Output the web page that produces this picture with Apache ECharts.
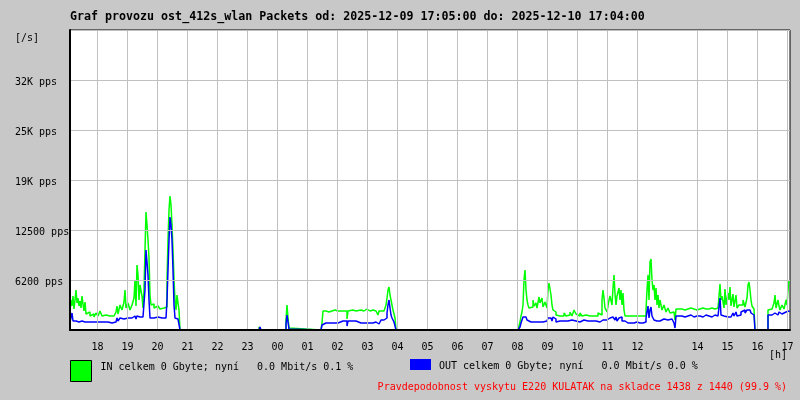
<!DOCTYPE html>
<html>
<head>
<meta charset="utf-8">
<script src="https://cdn.jsdelivr.net/npm/echarts@6/dist/echarts.min.js"></script>
<style>
html,body{margin:0;padding:0;background:#c8c8c8;}
#chart{width:800px;height:400px;}
</style>
</head>
<body>
<div id="chart"></div>
<script>
// Minutes since start of window (2025-12-09 17:05)
const minutes = [0,2,4,6,8,10,12,14,16,18,20,22,24,26,28,30,32,36,40,44,48,52,56,60,64,68,72,76,80,84,88,92,94,96,100,104,108,110,112,116,120,124,128,130,132,134,136,138,140,144,146,148,150,152,154,156,158,160,162,164,168,172,176,180,184,188,192,194,196,198,200,202,204,206,208,210,212,214,216,218,220,276,278,350,352,378,380,382,420,422,432,434,436,438,440,502,504,506,512,518,524,530,536,540,546,550,554,556,560,566,572,576,582,588,594,600,606,612,616,618,622,628,632,634,636,638,640,642,644,646,648,650,652,896,898,900,902,904,906,908,910,912,914,916,918,922,926,928,932,934,938,940,944,946,950,954,956,958,960,962,964,966,968,972,976,980,984,988,992,996,1000,1004,1008,1012,1016,1020,1024,1028,1032,1036,1040,1044,1048,1052,1056,1060,1064,1066,1068,1070,1074,1078,1080,1084,1086,1088,1090,1092,1094,1098,1100,1102,1104,1106,1108,1110,1116,1122,1128,1134,1140,1146,1150,1152,1154,1156,1158,1160,1162,1164,1166,1168,1170,1172,1174,1176,1178,1180,1184,1188,1192,1196,1200,1204,1208,1210,1212,1218,1224,1230,1236,1242,1248,1254,1260,1266,1272,1278,1284,1290,1296,1300,1302,1304,1308,1310,1312,1316,1318,1320,1322,1326,1328,1332,1334,1338,1342,1346,1350,1354,1356,1358,1360,1362,1364,1368,1370,1396,1400,1404,1408,1410,1412,1416,1418,1420,1424,1428,1432,1434,1436,1438];
const inPps = [2500,3750,3000,4250,2625,3750,5000,3375,4000,3000,3625,2750,4250,3250,2375,3500,2000,2250,1750,2000,1625,2125,1750,2375,1750,1875,1625,1750,1625,1750,1625,2250,3000,2000,3125,2500,3500,5000,2750,3375,2500,3125,4000,6250,3000,8125,6875,3750,5625,4250,2750,5000,10000,14750,13125,11250,9000,4375,3125,3250,2750,3000,2750,2625,2750,2750,2875,6250,11250,15000,16750,15625,13125,10000,6250,3750,2500,4375,3375,2500,0,125,0,125,0,375,500,0,0,0,1250,3125,1500,250,0,250,875,2375,2250,2375,2500,2375,2250,2375,2500,2375,1375,2375,2500,2375,2250,2500,2375,2625,2375,2500,2375,2500,1875,2375,2375,2500,3125,4000,5000,5375,4375,3750,3500,2500,2250,1500,0,250,500,1000,1750,2250,3125,6250,7500,5000,3750,3125,2750,2875,3750,3000,3375,2750,4125,3375,4000,2875,3500,2750,5000,5875,5625,4375,3125,2500,2250,1875,1750,2000,1750,2125,1750,1875,2250,1750,2500,2000,1750,2125,1750,1875,2125,1750,1875,1750,2000,1750,2125,1875,3750,5000,4000,2750,2250,3750,4250,3125,5250,6875,4500,3125,4250,5250,3750,5000,3125,4625,2500,1750,1750,1750,1750,1750,1750,1875,1750,2500,5000,6875,3750,8500,8875,6250,5000,5625,3750,5250,3125,4375,2750,3750,2500,3125,2250,2750,2125,2250,2000,1250,2625,2625,2500,2625,2750,2625,2500,2625,2750,2625,2625,2750,2625,2750,2625,5750,3750,4250,2750,5125,3125,4625,3750,5375,3000,4500,2875,4375,2750,3125,3125,3750,2875,4000,5625,6000,5000,3750,3000,2625,0,2500,2625,2500,3375,4375,2750,3750,3000,2500,3125,2625,3750,3125,5000,6250];
const outPps = [1000,1250,2125,1125,1000,1125,1000,1125,1000,1125,1000,1125,1000,1000,1000,1000,1000,1000,1000,1000,1000,1125,1000,1000,1000,875,1000,1000,875,1000,1000,1250,1500,1125,1500,1375,1500,1625,1500,1750,1500,1625,1750,1500,1375,1750,1500,1625,1500,1625,1500,1750,5000,10000,8500,6875,3750,1500,1500,1500,1500,1625,1500,1500,1625,1500,1500,3750,7500,11250,14125,13125,11250,7500,3125,1500,1500,1375,1375,1250,0,0,0,0,0,250,375,0,125,0,750,1875,1000,125,0,250,625,875,875,875,875,875,1125,1125,1250,1125,500,1125,1125,1125,1125,875,875,875,875,875,1000,875,750,875,1250,1250,1500,2125,3125,3750,2750,1875,1500,1250,1000,500,0,0,125,375,875,1250,1625,1750,1625,1375,1250,1000,1000,1125,1000,1000,1000,1125,1000,1125,1000,1000,1125,1250,1500,1750,1500,1250,1125,1625,1375,1000,1125,1000,1125,1000,1125,875,1250,1000,1125,1375,1000,1125,1250,1000,1125,1000,1125,1000,1125,1000,1000,1125,1250,1375,1125,1250,1125,1500,1250,1625,1750,1500,1250,1625,1125,1500,1250,1625,1125,1250,1125,875,875,875,1000,875,875,875,1000,1500,2250,3000,1500,2500,2875,1750,1500,1250,1500,1125,1250,1375,1125,1250,1375,1125,1250,1250,1375,1250,875,250,1750,1750,1625,1750,1875,1625,1750,1750,1625,1875,1750,1625,1875,1750,1750,4000,1875,1750,1750,2000,1625,1875,1750,1625,1875,2125,1750,2250,1750,1875,2250,2500,2125,2500,2625,2500,2250,2125,1875,1750,0,1875,1875,1875,2125,2125,1875,2000,2250,2000,2125,2250,2250,2375,2375,2250];

// X axis ticks (minutes from start) and their hour labels; 13:00 is absent in the original
const xTickMinutes = [55,115,175,235,295,355,415,475,535,595,655,715,775,835,895,955,1015,1075,1135,1255,1315,1375,1435];
const xTickLabels = ['18','19','20','21','22','23','00','01','02','03','04','05','06','07','08','09','10','11','12','14','15','16','17'];
// Y axis ticks and labels
const yTickValues = [6250,12500,18750,25000,31250];
const yTickLabels = ['6200 pps','12500 pps','19K pps','25K pps','32K pps'];

const titleText = 'Graf provozu ost_412s_wlan Packets od: 2025-12-09 17:05:00 do: 2025-12-10 17:04:00';
const inLegend = 'IN celkem 0 Gbyte; nyní   0.0 Mbit/s 0.1 %';
const outLegend = 'OUT celkem 0 Gbyte; nyní   0.0 Mbit/s 0.0 %';
const footText = 'Pravdepodobnost vyskytu E220 KULATAK na skladce 1438 z 1440 (99.9 %)';

const MONO = 'DejaVu Sans Mono';
const inData = minutes.map((m, i) => [m, inPps[i]]);
const outData = minutes.map((m, i) => [m, outPps[i]]);

const chart = echarts.init(document.getElementById('chart'), null, {renderer: 'canvas'});
chart.setOption({
  backgroundColor: '#c8c8c8',
  animation: false,
  title: {
    text: titleText, left: 65, top: 11, padding: [0,5],
    textStyle: {fontFamily: MONO, fontSize: 11.65, fontWeight: 'bold', color: '#000'}
  },
  grid: {left: 70, right: 10, top: 30, bottom: 70, show: true, backgroundColor: '#fff', borderColor: '#000', borderWidth: 1},
  xAxis: {
    type: 'value', min: 0, max: 1440, z: 5,
    axisLine: {show: true, onZero: false, lineStyle: {color: '#000', width: 2}},
    axisTick: {show: false, customValues: xTickMinutes},
    splitLine: {show: true, lineStyle: {color: '#c0c0c0', width: 1}},
    axisLabel: {
      customValues: xTickMinutes, margin: 12,
      fontFamily: MONO, fontSize: 10, color: '#000',
      formatter: v => xTickLabels[xTickMinutes.indexOf(v)] || ''
    }
  },
  yAxis: {
    type: 'value', min: 0, max: 37500, interval: 6250, z: 5,
    axisLine: {show: true, lineStyle: {color: '#000', width: 2}},
    axisTick: {show: false},
    splitLine: {show: true, lineStyle: {color: '#c0c0c0', width: 1}},
    axisLabel: {
      align: 'left', margin: 55,
      fontFamily: MONO, fontSize: 10, color: '#000',
      formatter: v => { const i = yTickValues.indexOf(v); return i >= 0 ? '{a|' + yTickLabels[i] + '}' : ''; },
      rich: {a: {fontFamily: MONO, fontSize: 10, color: '#000', padding: [5,0,0,0]}}
    }
  },
  legend: [
    {
      data: ['IN'], left: 70, top: 360, padding: 0, selectedMode: false,
      icon: 'rect', itemWidth: 21, itemHeight: 21,
      itemStyle: {borderColor: '#000', borderWidth: 1},
      formatter: () => '{a|' + inLegend + '}',
      textStyle: {fontFamily: MONO, fontSize: 10, color: '#000', padding: [0,0,0,4],
        rich: {a: {fontFamily: MONO, fontSize: 10, color: '#000', padding: [0,0,8,0]}}}
    },
    {
      data: ['OUT'], left: 410, top: 359, padding: 0, selectedMode: false,
      icon: 'rect', itemWidth: 21, itemHeight: 11,
      itemStyle: {borderWidth: 0},
      formatter: () => '{a|' + outLegend + '}',
      textStyle: {fontFamily: MONO, fontSize: 10, color: '#000', padding: [0,0,0,3],
        rich: {a: {fontFamily: MONO, fontSize: 10, color: '#000', padding: [3,0,0,0]}}}
    }
  ],
  graphic: [
    {type: 'text', left: 15, top: 33, style: {text: '[/s]', font: '10px "DejaVu Sans Mono"', fill: '#000'}},
    {type: 'text', left: 769, top: 350, style: {text: '[h]', font: '10px "DejaVu Sans Mono"', fill: '#000'}},
    {type: 'text', right: 13, top: 382, style: {text: footText, font: '10px "DejaVu Sans Mono"', fill: '#ff0000'}}
  ],
  series: [
    {name: 'IN', type: 'line', step: 'end', data: inData, showSymbol: false, symbol: 'none',
     color: '#00ff00', lineStyle: {color: '#00ff00', width: 1.5}, itemStyle: {color: '#00ff00'}},
    {name: 'OUT', type: 'line', step: 'end', data: outData, showSymbol: false, symbol: 'none',
     color: '#0000ff', lineStyle: {color: '#0000ff', width: 1.5}, itemStyle: {color: '#0000ff'}}
  ]
});
</script>
</body>
</html>
